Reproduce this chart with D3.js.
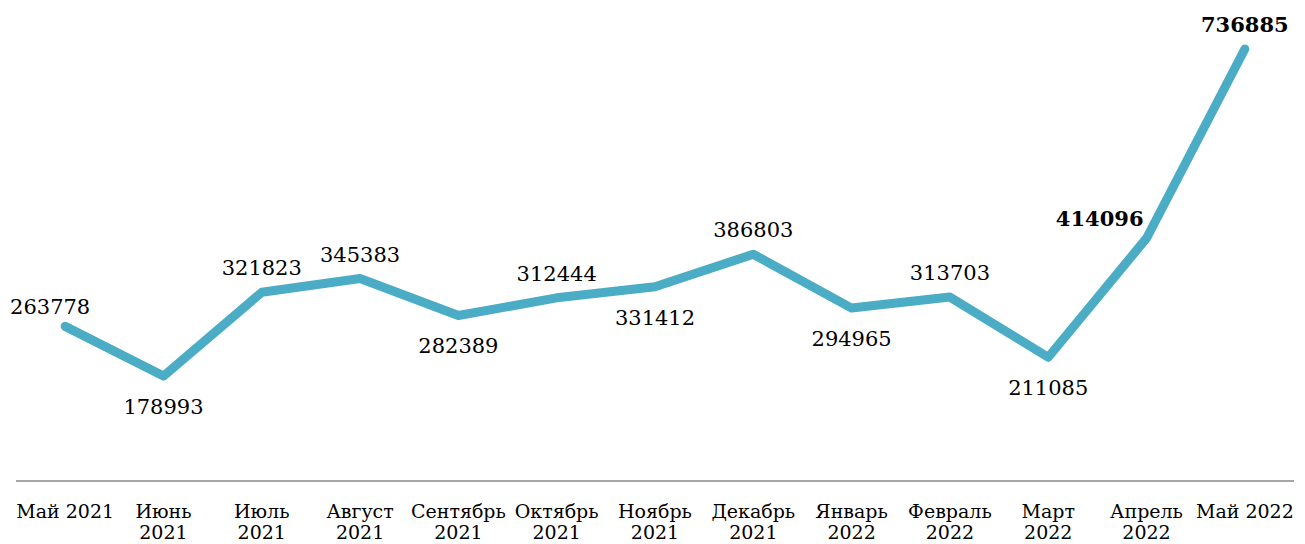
<!DOCTYPE html>
<html>
<head>
<meta charset="utf-8">
<script src="https://cdn.jsdelivr.net/npm/d3@7"></script>
<style>
  body { margin: 0; background: #fff; }
  svg text { font-family: "DejaVu Serif", "Liberation Serif", serif; fill: #000; }
</style>
</head>
<body>
<div id="chart"></div>
<script>
// chart data
const months = ["Май 2021", "Июнь 2021", "Июль 2021", "Август 2021", "Сентябрь 2021", "Октябрь 2021",
    "Ноябрь 2021", "Декабрь 2021", "Январь 2022", "Февраль 2022", "Март 2022", "Апрель 2022", "Май 2022"];
const counts = [263778, 178993, 321823, 345383, 282389, 312444, 331412, 386803, 294965, 313703, 211085, 414096, 736885];
// where each value label sits relative to its point
const labelPos = ["above", "below", "above", "above", "below", "above", "below", "above", "below", "above", "below", "left", "above"];
const boldLabels = [false, false, false, false, false, false, false, false, false, false, false, true, true];

const width = 1305;
const height = 544;
const axisFont = 19;
const valueFont = 21;

const svg = d3.select("#chart")
    .append("svg")
    .attr("width", width)
    .attr("height", height);

const x = d3.scaleBand()
    .domain(months)
    .range([16, 1294]);

const y = d3.scaleLinear()
    .domain([0, 800000])
    .range([481, 12]);

const cx = d => x(d) + x.bandwidth() / 2;

// axis line
svg.append("line")
    .attr("x1", 16)
    .attr("x2", 1294)
    .attr("y1", y(0))
    .attr("y2", y(0))
    .attr("stroke", "#a6a6a6")
    .attr("stroke-width", 2);

// category labels, two lines where the wording allows
const xLabel = svg.append("g")
    .selectAll("text")
    .data(months)
    .enter().append("text")
    .attr("text-anchor", "middle")
    .attr("font-size", axisFont)
    .attr("x", d => cx(d))
    .attr("y", 518);

xLabel.each(function(d) {
    const parts = d.split(" ");
    const t = d3.select(this);
    if (d.startsWith("Май")) {
        t.text(d);
    } else {
        t.append("tspan").attr("x", cx(d)).text(parts[0]);
        t.append("tspan").attr("x", cx(d)).attr("dy", 21).text(parts[1]);
    }
});

// the line
const line = d3.line()
    .x((d, i) => cx(months[i]))
    .y(d => y(d));

svg.append("path")
    .datum(counts)
    .attr("d", line)
    .attr("fill", "none")
    .attr("stroke", "#4bacc6")
    .attr("stroke-width", 9)
    .attr("stroke-linecap", "round")
    .attr("stroke-linejoin", "round");

// value labels
svg.append("g")
    .selectAll("text")
    .data(counts)
    .enter().append("text")
    .text(d => d)
    .attr("font-size", valueFont)
    .attr("font-weight", (d, i) => boldLabels[i] ? "bold" : "normal")
    .attr("text-anchor", (d, i) => labelPos[i] === "left" ? "end" : "middle")
    .attr("x", (d, i) => {
        const px = cx(months[i]);
        if (labelPos[i] === "left") return px - 3;
        if (i === 0) return px - 15;
        return px;
    })
    .attr("y", (d, i) => {
        const py = y(d);
        if (labelPos[i] === "below") return py + 38;
        if (labelPos[i] === "left") return py - 12;
        if (i === 0) return py - 12;
        return py - 17;
    });
</script>
</body>
</html>
